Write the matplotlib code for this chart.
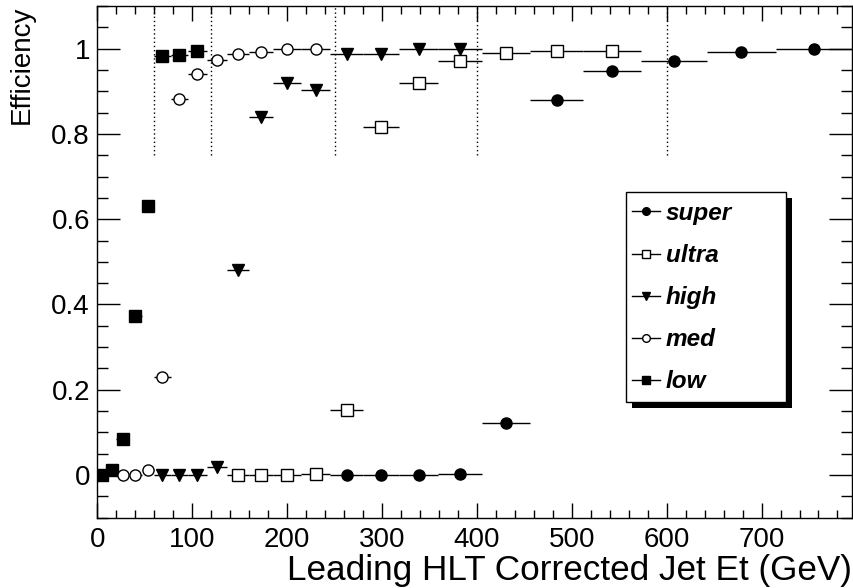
import matplotlib
matplotlib.use('Agg')
import matplotlib.pyplot as plt
from matplotlib.lines import Line2D
from matplotlib.patches import Rectangle
from matplotlib.ticker import MultipleLocator, FuncFormatter
import numpy as np

plt.rcParams['font.family'] = ['Liberation Sans', 'DejaVu Sans']

# ---- data ----
bin_edges = [0, 10, 20, 33, 47, 60, 77, 95, 115, 136, 160, 185, 215, 245,
             280, 318, 359, 405, 456, 512, 573, 642, 715, 795]

low_start = 0
low_eff = [0.0, 0.012, 0.085, 0.372, 0.630, 0.983, 0.984, 0.995]

med_start = 2
med_eff = [0.0, 0.0, 0.012, 0.231, 0.882, 0.940, 0.973, 0.988, 0.993, 0.998, 0.998]

high_start = 5
high_eff = [0.0, 0.0, 0.0, 0.018, 0.481, 0.840, 0.919, 0.904, 0.987, 0.987, 0.999, 0.999]

ultra_start = 9
ultra_eff = [0.0, 0.0, 0.0, 0.003, 0.153, 0.816, 0.919, 0.972, 0.990, 0.994, 0.995]

super_start = 13
super_eff = [0.0, 0.0, 0.0, 0.002, 0.122, 0.880, 0.948, 0.972, 0.991, 0.998]

cut_lines = [60, 120, 250, 400, 600]

legend_labels = ['super', 'ultra', 'high', 'med', 'low']

# ---- figure ----
W, H = 854, 588
fig = plt.figure(figsize=(W / 100, H / 100), dpi=100)
L, R, T, B = 97.5, 851.7, 6, 517.7
ax = fig.add_axes([L / W, 1 - B / H, (R - L) / W, (B - T) / H])

edges = np.array(bin_edges, dtype=float)


def draw(start, vals, marker, filled):
    n = len(vals)
    lo = edges[start:start + n]
    hi = edges[start + 1:start + n + 1]
    xc = (lo + hi) / 2
    ax.errorbar(xc, vals, xerr=[xc - lo, hi - xc], fmt=marker, ms=8,
                mfc='black' if filled else 'white', mec='black', mew=1,
                ecolor='black', elinewidth=1, capsize=0, zorder=3)


draw(low_start, low_eff, 's', True)
draw(med_start, med_eff, 'o', False)
draw(high_start, high_eff, 'v', True)
draw(ultra_start, ultra_eff, 's', False)
draw(super_start, super_eff, 'o', True)

ax.vlines(cut_lines, 0.75, 1.1, colors='black', linestyles=(0, (1, 2)), lw=1, zorder=2)

ax.set_xlim(0, 795)
ax.set_ylim(-0.1, 1.1)
ax.xaxis.set_major_locator(MultipleLocator(100))
ax.xaxis.set_minor_locator(MultipleLocator(20))
ax.yaxis.set_major_locator(MultipleLocator(0.2))
ax.yaxis.set_minor_locator(MultipleLocator(0.05))
ax.yaxis.set_major_formatter(FuncFormatter(lambda v, p: f'{round(v, 2):g}'))
ax.xaxis.set_major_formatter(FuncFormatter(lambda v, p: f'{int(round(v))}'))
ax.tick_params(which='both', direction='in', top=True, right=True, width=1, labelsize=20)
ax.tick_params(axis='x', which='major', length=10.8, pad=6.5)
ax.tick_params(axis='x', which='minor', length=5.5)
ax.tick_params(axis='y', which='major', length=16.3, pad=5.4)
ax.tick_params(axis='y', which='minor', length=8)
for s in ax.spines.values():
    s.set_linewidth(1.0)

fig.text(R / W, 1 - 580 / H, 'Leading HLT Corrected Jet Et (GeV)', ha='right',
         va='baseline', fontsize=25.3)
fig.text(9 / W, 1 - 6 / H, 'Efficiency', rotation=90, ha='left', va='top', fontsize=20)

# legend box with hard shadow
def fig_rect(x0, y0, x1, y1, **kw):
    return Rectangle((x0 / W, 1 - y1 / H), (x1 - x0) / W, (y1 - y0) / H,
                     transform=fig.transFigure, **kw)

fig.add_artist(fig_rect(632, 198, 791.7, 408.3, facecolor='black', edgecolor='none', zorder=3))
fig.add_artist(fig_rect(626, 191.7, 785.7, 401.7, facecolor='white', edgecolor='black', lw=1, zorder=4))

handles = [
    Line2D([], [], color='black', lw=1, marker='o', ms=5.5, mfc='black', mec='black'),
    Line2D([], [], color='black', lw=1, marker='s', ms=5.5, mfc='white', mec='black'),
    Line2D([], [], color='black', lw=1, marker='v', ms=5.5, mfc='black', mec='black'),
    Line2D([], [], color='black', lw=1, marker='o', ms=5.5, mfc='white', mec='black'),
    Line2D([], [], color='black', lw=1, marker='s', ms=5.5, mfc='black', mec='black'),
]
leg = fig.legend(handles, legend_labels, loc='upper left',
                 bbox_to_anchor=(631.7 / W, 1 - 202 / H), frameon=False,
                 prop=dict(family='Liberation Sans', weight='bold', style='italic', size=17.5),
                 handlelength=1.15, handletextpad=0.25, labelspacing=0.785,
                 borderpad=0, borderaxespad=0)
leg.set_zorder(5)

fig.savefig('out.png', dpi=100)
